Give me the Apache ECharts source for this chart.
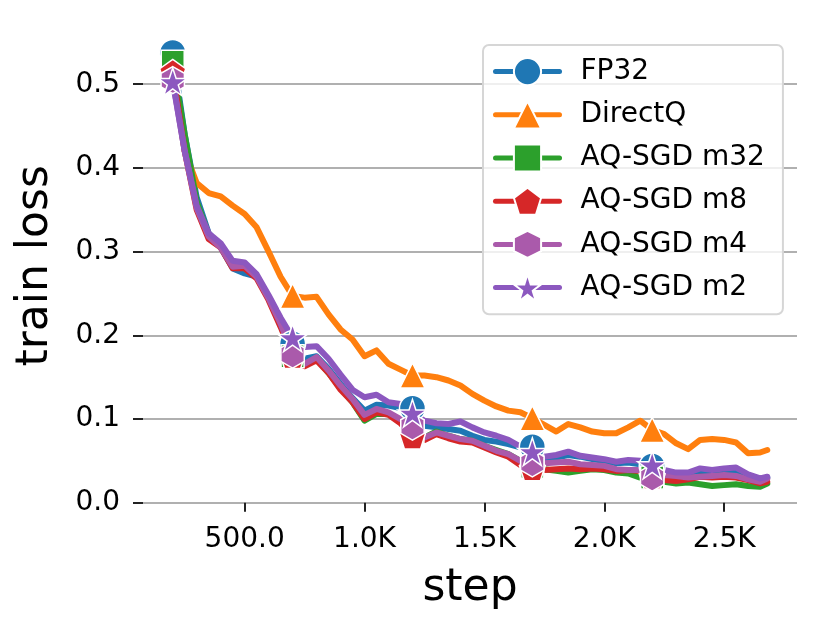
<!DOCTYPE html>
<html>
<head>
<meta charset="utf-8">
<script src="https://cdn.jsdelivr.net/npm/echarts@6/dist/echarts.min.js"></script>
<style>
html, body { margin: 0; padding: 0; background: #fff; }
#chart { width: 829px; height: 634px; }
</style>
</head>
<body>
<div id="chart"></div>
<script>
// steps (x) shared by every run
var steps = [200, 250, 300, 350, 400, 450, 500, 550, 600, 650,
             700, 750, 800, 850, 900, 950, 1000, 1050, 1100, 1150,
             1200, 1250, 1300, 1350, 1400, 1450, 1500, 1550, 1600, 1650,
             1700, 1750, 1800, 1850, 1900, 1950, 2000, 2050, 2100, 2150,
             2200, 2250, 2300, 2350, 2400, 2450, 2500, 2550, 2600, 2650,
             2680];
// steps that carry a marker
var markerSteps = [200, 700, 1200, 1700, 2200];

// train loss per run
var fp32 = [0.538, 0.44, 0.365, 0.322, 0.305, 0.28, 0.274, 0.27, 0.246, 0.215,
            0.19, 0.172, 0.175, 0.16, 0.142, 0.125, 0.11, 0.117, 0.116, 0.113,
            0.113, 0.092, 0.09, 0.088, 0.086, 0.08, 0.075, 0.073, 0.07, 0.066,
            0.067, 0.052, 0.054, 0.057, 0.055, 0.052, 0.05, 0.047, 0.048, 0.046,
            0.044, 0.036, 0.034, 0.034, 0.037, 0.037, 0.038, 0.037, 0.031, 0.027,
            0.03];
var directQ = [0.52, 0.42, 0.382, 0.37, 0.366, 0.355, 0.345, 0.329, 0.3, 0.27,
               0.247, 0.245, 0.246, 0.225, 0.207, 0.195, 0.175, 0.182, 0.166, 0.159,
               0.152, 0.152, 0.15, 0.146, 0.14, 0.13, 0.122, 0.115, 0.11, 0.108,
               0.101, 0.093, 0.085, 0.094, 0.09, 0.085, 0.083, 0.083, 0.09, 0.098,
               0.087, 0.082, 0.071, 0.064, 0.075, 0.076, 0.075, 0.072, 0.059, 0.06,
               0.063];
var aqM32 = [0.527, 0.44, 0.36, 0.32, 0.307, 0.284, 0.282, 0.27, 0.245, 0.212,
             0.175, 0.166, 0.172, 0.155, 0.137, 0.12, 0.098, 0.106, 0.106, 0.097,
             0.085, 0.078, 0.085, 0.08, 0.076, 0.074, 0.068, 0.063, 0.058, 0.05,
             0.043, 0.04, 0.038, 0.036, 0.038, 0.04, 0.039, 0.036, 0.035, 0.03,
             0.03, 0.025, 0.023, 0.024, 0.022, 0.02, 0.021, 0.022, 0.02, 0.019,
             0.023];
var aqM8 = [0.515, 0.42, 0.35, 0.315, 0.305, 0.28, 0.28, 0.268, 0.242, 0.21,
            0.175, 0.163, 0.17, 0.155, 0.135, 0.12, 0.1, 0.108, 0.105, 0.095,
            0.079, 0.075, 0.082, 0.077, 0.073, 0.072, 0.066, 0.06, 0.055, 0.045,
            0.041, 0.039, 0.04, 0.041, 0.04, 0.041, 0.04, 0.038, 0.039, 0.038,
            0.031, 0.027, 0.026, 0.028, 0.031, 0.03, 0.031, 0.03, 0.027, 0.023,
            0.025];
var aqM4 = [0.505, 0.42, 0.352, 0.318, 0.305, 0.282, 0.283, 0.27, 0.244, 0.214,
            0.177, 0.166, 0.174, 0.158, 0.14, 0.124, 0.105, 0.112, 0.108, 0.1,
            0.091, 0.078, 0.084, 0.08, 0.076, 0.074, 0.068, 0.062, 0.058, 0.05,
            0.047, 0.047, 0.048, 0.049, 0.046, 0.045, 0.044, 0.04, 0.039, 0.039,
            0.03, 0.033, 0.032, 0.03, 0.031, 0.032, 0.033, 0.032, 0.028, 0.025,
            0.029];
var aqM2 = [0.503, 0.42, 0.355, 0.322, 0.31, 0.289, 0.287, 0.273, 0.248, 0.221,
            0.197, 0.186, 0.187, 0.172, 0.153, 0.135, 0.126, 0.129, 0.12, 0.118,
            0.107, 0.098, 0.095, 0.094, 0.097, 0.09, 0.084, 0.08, 0.075, 0.067,
            0.061, 0.055, 0.057, 0.061, 0.056, 0.054, 0.052, 0.049, 0.051, 0.05,
            0.045, 0.039, 0.036, 0.036, 0.041, 0.039, 0.041, 0.042, 0.034, 0.029,
            0.031];

var xTicks = [500, 1000, 1500, 2000, 2500];
var yTicks = [0, 0.1, 0.2, 0.3, 0.4, 0.5];

var PENTAGON = 'path://M0,-1L0.951,-0.309L0.588,0.809L-0.588,0.809L-0.951,-0.309Z';
var HEXAGON = 'path://M0,-1L0.866,-0.5L0.866,0.5L0,1L-0.866,0.5L-0.866,-0.5Z';
var STAR = 'path://M0,-1L0.2245,-0.309L0.951,-0.309L0.363,0.118L0.588,0.809L0,0.382' +
           'L-0.588,0.809L-0.363,0.118L-0.951,-0.309L-0.2245,-0.309Z';

var font = 'DejaVu Sans';

function toData(vals) {
    return steps.map(function (s, i) {
        var item = { value: [s, vals[i]] };
        if (markerSteps.indexOf(s) < 0) item.symbol = 'none';
        return item;
    });
}

function makeSeries(name, vals, color, symbol, size) {
    return {
        name: name,
        type: 'line',
        data: toData(vals),
        symbol: symbol,
        symbolSize: size,
        symbolKeepAspect: true,
        color: color,
        lineStyle: { color: color, width: 6, join: 'round', cap: 'round' },
        itemStyle: { color: color, borderColor: '#fff', borderWidth: 1.5 },
        emphasis: { disabled: true },
        animation: false
    };
}

var chart = echarts.init(document.getElementById('chart'));
chart.setOption({
    backgroundColor: '#fff',
    animation: false,
    textStyle: { fontFamily: font },
    grid: { left: 143, right: 32, top: 29, bottom: 131.3 },
    legend: {
        orient: 'vertical',
        left: 483,
        top: 45,
        padding: [12, 18, 12, 10],
        itemWidth: 64,
        itemHeight: 34,
        itemGap: 14,
        backgroundColor: 'rgba(255,255,255,0.8)',
        borderColor: '#d6d6d6',
        borderWidth: 2,
        borderRadius: 6,
        lineStyle: { width: 5 },
        textStyle: { fontFamily: font, fontSize: 28, color: '#000', padding: [0, 0, 0, 16] },
        data: ['FP32', 'DirectQ', 'AQ-SGD m32', 'AQ-SGD m8', 'AQ-SGD m4', 'AQ-SGD m2']
    },
    xAxis: {
        type: 'value',
        min: 76,
        max: 2804,
        offset: 7,
        name: 'step',
        nameLocation: 'middle',
        nameGap: 57,
        nameTextStyle: { fontFamily: font, fontSize: 44, color: '#000' },
        axisLine: { show: false },
        axisTick: { show: true, customValues: xTicks, length: 9, lineStyle: { color: '#222', width: 2 } },
        axisLabel: {
            customValues: xTicks,
            fontFamily: font, fontSize: 28, color: '#000', margin: 16,
            formatter: function (v) {
                return v >= 1000 ? (v / 1000).toFixed(1) + 'K' : v.toFixed(1);
            }
        },
        splitLine: { show: false }
    },
    yAxis: {
        type: 'value',
        min: 0,
        max: 0.566,
        name: 'train loss',
        nameLocation: 'middle',
        nameGap: 85,
        nameTextStyle: { fontFamily: font, fontSize: 44, color: '#000' },
        axisLine: { show: false },
        axisTick: { show: true, customValues: yTicks, length: 10, lineStyle: { color: '#222', width: 2 } },
        axisLabel: {
            customValues: yTicks,
            fontFamily: font, fontSize: 28, color: '#000', margin: 23,
            formatter: function (v) { return v.toFixed(1); }
        },
        splitLine: { show: true, lineStyle: { color: '#b0b0b0', width: 2 } }
    },
    series: [
        makeSeries('FP32', fp32, '#1f77b4', 'circle', 26),
        makeSeries('DirectQ', directQ, '#ff7f0e', 'triangle', 25),
        makeSeries('AQ-SGD m32', aqM32, '#2ca02c', 'rect', 23),
        makeSeries('AQ-SGD m8', aqM8, '#d62728', PENTAGON, 26),
        makeSeries('AQ-SGD m4', aqM4, '#aa5aab', HEXAGON, 27),
        makeSeries('AQ-SGD m2', aqM2, '#8c58bf', STAR, 29)
    ]
});
</script>
</body>
</html>
